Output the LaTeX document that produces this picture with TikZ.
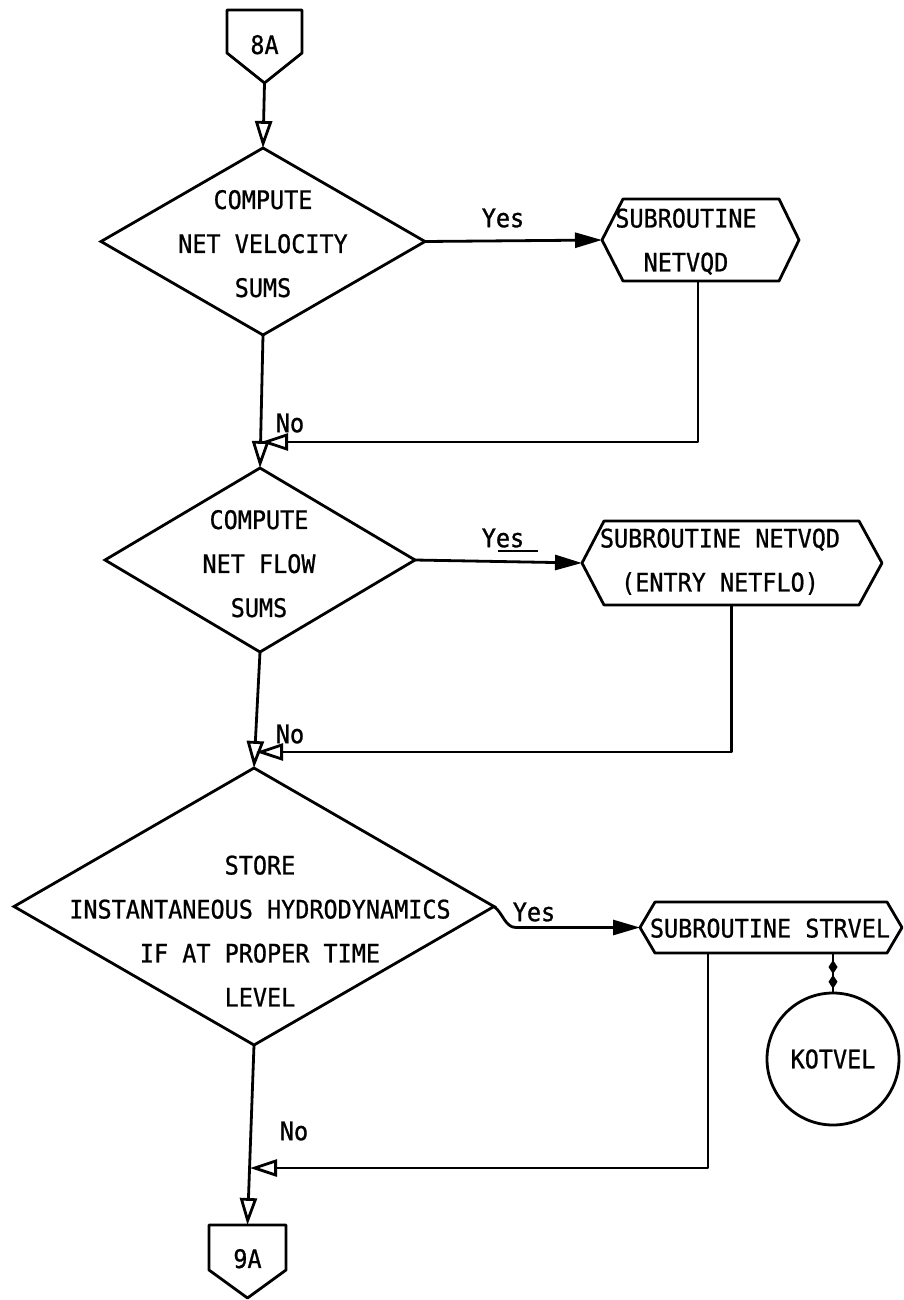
\documentclass[tikz,border=0pt]{standalone}
\usepackage{fontspec}
\newfontfamily\flowfont[FakeStretch=0.92, FakeBold=0.8]{DejaVu Sans Mono}
\newfontfamily\tagfont[FakeStretch=0.92, FakeBold=1.2]{DejaVu Sans Mono}
\usetikzlibrary{arrows.meta,shapes.geometric,decorations.markings}

\begin{document}
\begin{tikzpicture}[x=1pt,y=-1pt,
  every node/.style={font=\flowfont\fontsize{25.5}{44}\selectfont},
  line/.style={line width=2.8pt, line join=round},
  box/.style={rectangle, inner sep=0pt, outer sep=0pt},
  decision/.style={diamond, draw, line width=2.8pt, inner sep=0pt, outer sep=0pt},
  body/.style={align=center, inner sep=0pt, text depth=0pt},
  tag/.style={font=\tagfont\fontsize{25.5}{28}\selectfont, inner sep=0pt},
  noflow/.style={line, -{Triangle[open, length=27pt, width=17pt]}},
  yesflow/.style={line, -{Triangle[length=27pt, width=15pt]}},
  linkmarks/.style={line, postaction={decorate}, decoration={markings,
    mark=at position 0.35 with {\fill (-7,0) -- (0,4.5) -- (7,0) -- (0,-4.5) -- cycle;},
    mark=at position 0.72 with {\fill (-7,0) -- (0,4.5) -- (7,0) -- (0,-4.5) -- cycle;}}},
]
\fill[white] (0,0) rectangle (904,1300);
\useasboundingbox (0,0) rectangle (904,1300);

% off-page connectors
\node[box, minimum width=75pt, minimum height=73pt] (c8A) at (264.5,46.5) {\raisebox{4pt}{8A}};
\draw[line] (c8A.north west) -- (c8A.north east) -- ([yshift=30pt]c8A.south east)
  -- (c8A.south) -- ([yshift=30pt]c8A.south west) -- cycle;
\node[box, minimum width=77pt, minimum height=73pt] (c9A) at (247.5,1261.5) {\raisebox{6pt}{9A}};
\draw[line] (c9A.north west) -- (c9A.north east) -- ([yshift=28pt]c9A.south east)
  -- (c9A.south) -- ([yshift=28pt]c9A.south west) -- cycle;

% decisions
\node[decision, minimum width=324pt, minimum height=187pt] (d1) at (263,241.5) {};
\node[body] (t1) at (263,243.5) {COMPUTE\\NET VELOCITY\\SUMS};
\node[decision, minimum width=310pt, minimum height=184pt] (d2) at (260,560) {};
\node[body] (t2) at (259,563.5) {COMPUTE\\NET FLOW\\SUMS};
\node[decision, minimum width=480pt, minimum height=277pt] (d3) at (254,906.5) {};
\node[body] (t3) at (260,931) {STORE\\INSTANTANEOUS HYDRODYNAMICS\\IF AT PROPER TIME\\LEVEL};

% subroutine boxes
\node[box, minimum width=156pt, minimum height=82pt] (h1) at (701,240) {};
\node[body] (h1t) at (686,240) {SUBROUTINE\\NETVQD};
\draw[line] (h1.north west) -- (h1.north east) -- ([xshift=20pt]h1.east) -- (h1.south east)
  -- (h1.south west) -- ([xshift=-21pt]h1.west) -- cycle;
\coordinate (h1L) at ([xshift=-21pt]h1.west);

\node[box, minimum width=255pt, minimum height=84pt] (h2) at (731.5,563) {};
\node[body] (h2t) at (720,560) {SUBROUTINE NETVQD\\(ENTRY NETFLO)};
\draw[line] (h2.north west) -- (h2.north east) -- ([xshift=23pt]h2.east) -- (h2.south east)
  -- (h2.south west) -- ([xshift=-22pt]h2.west) -- cycle;
\coordinate (h2L) at ([xshift=-22pt]h2.west);

\node[box, minimum width=232pt, minimum height=51pt] (h3) at (771,927.5) {};
\node[body] (h3t) at (770,928) {SUBROUTINE STRVEL};
\draw[line] (h3.north west) -- (h3.north east) -- ([xshift=15pt]h3.east) -- (h3.south east)
  -- (h3.south west) -- ([xshift=-15pt]h3.west) -- cycle;
\coordinate (h3L) at ([xshift=-15pt]h3.west);

% storage
\node[circle, draw, line width=2.8pt, minimum size=132pt, inner sep=0pt, outer sep=0pt] (k) at (833,1059) {KOTVEL};

% branch labels
\node[tag] (y1) at (503,218) {Yes};
\node[tag] (y2) at (503,538) {Yes};
\draw[line width=2pt] ([xshift=-5pt,yshift=-13pt]y2.center) -- ++(40,0);
\node[tag] (y3) at (534,912) {Yes};
\node[tag] (n1) at (290,423) {No};
\node[tag] (n2) at (290,734) {No};
\node[tag] (n3) at (294,1131) {No};

% junction points on the main line
\coordinate (j1) at (261,442);
\coordinate (j2) at (256,752);
\coordinate (j3) at (250,1168);
\coordinate (b3) at (516,927.5);
\coordinate (h1o) at ([xshift=-3pt]h1.south);
\coordinate (h3o) at ([xshift=-63pt]h3.south);

% flow lines
\draw[noflow] (c8A.south) -- (d1.north);
\draw[yesflow] (d1.east) -- (h1L);
\draw[noflow] (h1o) |- (j1);
\draw[noflow] (d1.south) -- (d2.north);
\draw[yesflow] (d2.east) -- (h2L);
\draw[noflow] (h2.south) |- (j2);
\draw[noflow] (d2.south) -- (d3.north);
\draw[yesflow] (d3.east) .. controls (503,913) and (505,927.5) .. (b3) -- (h3L);
\draw[noflow] (h3o) |- (j3);
\draw[noflow] (d3.south) -- (c9A.north);
\draw[linkmarks] (k.north |- h3.south) -- (k.north);
\end{tikzpicture}
\end{document}
